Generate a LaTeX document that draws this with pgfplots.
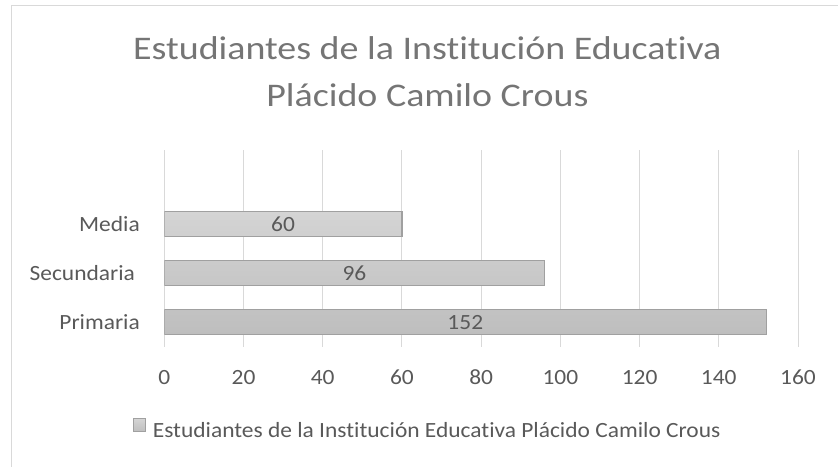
\documentclass[border=0pt]{standalone}
\usepackage{pgfplots}
\pgfplotsset{compat=1.18}
\usepackage{fontspec}
\setmainfont{Carlito}[FakeStretch=1.08, Ligatures=NoCommon]
\newfontfamily\titlefont{Carlito}[FakeStretch=1.15, Ligatures=NoCommon]

\definecolor{txt}{HTML}{595959}
\definecolor{ttl}{HTML}{757575}
\definecolor{grd}{HTML}{D9D9D9}
\definecolor{barline}{HTML}{A0A0A0}
\definecolor{bartop}{HTML}{D4D4D4}
\definecolor{barbot}{HTML}{BEBEBE}

\pgfplotstableread{
pos valor
1 152
2 96
3 60
}\estudiantes

\begin{document}
\begin{tikzpicture}[x=1bp,y=1bp]
\useasboundingbox (0,0) rectangle (838,467);
% marco del grafico (solo se ven los bordes izquierdo y superior)
\draw[grd, line width=1bp] (11,0) -- (11,461) -- (838,461);
\node[ttl, font=\titlefont\fontsize{33bp}{40bp}\selectfont, anchor=base, inner sep=0pt]
  at (427.4,407.7) {Estudiantes de la Institución Educativa};
\node[ttl, font=\titlefont\fontsize{33bp}{40bp}\selectfont, anchor=base, inner sep=0pt]
  at (427.4,360.3) {Plácido Camilo Crous};
\begin{axis}[
  at={(164.3bp,120.3bp)}, anchor=south west,
  scale only axis, width=633.7bp, height=196.7bp,
  xmin=0, xmax=160, xtick={0,20,...,160},
  ymin=0.5, ymax=4.5, ytick={1,2,3},
  yticklabels={Primaria, Secundaria\hspace*{4.9bp}, Media},
  xmajorgrids, grid style={grd, line width=1bp},
  axis line style={draw=none}, major tick length=0pt,
  tick label style={txt, font=\fontsize{21.7bp}{26bp}\selectfont},
  xticklabel style={anchor=base, yshift=-38.3bp, inner sep=0pt},
  yticklabel style={anchor=east, xshift=-24.3bp, inner sep=0pt},
  /pgf/number format/assume math mode=true,
  legend style={draw=none, fill=none, inner sep=0pt, nodes={inner sep=0pt},
    at={(axis description cs:-0.0499,-0.4164)}, anchor=west,
    font=\fontsize{21.7bp}{26bp}\selectfont, text=txt,
    /tikz/every odd column/.append style={column sep=7bp}},
  legend image code/.code={\draw[draw=barline, line width=1bp, top color=bartop, bottom color=barbot]
    (0.5bp,-1.5bp) rectangle (12.5bp,11.5bp);},
]
\addplot[xbar, bar width=25bp, draw=barline, line width=1.3bp,
  top color=bartop, bottom color=barbot,
  point meta=x, nodes near coords,
  visualization depends on=rawx \as \rawx,
  nodes near coords style={anchor=center, txt, font=\fontsize{21.7bp}{26bp}\selectfont,
    shift={(axis direction cs:-\rawx/2,0)}},
] table[x=valor, y=pos] {\estudiantes};
\addlegendentry{Estudiantes de la Institución Educativa Plácido Camilo Crous}
\end{axis}
\end{tikzpicture}
\end{document}
